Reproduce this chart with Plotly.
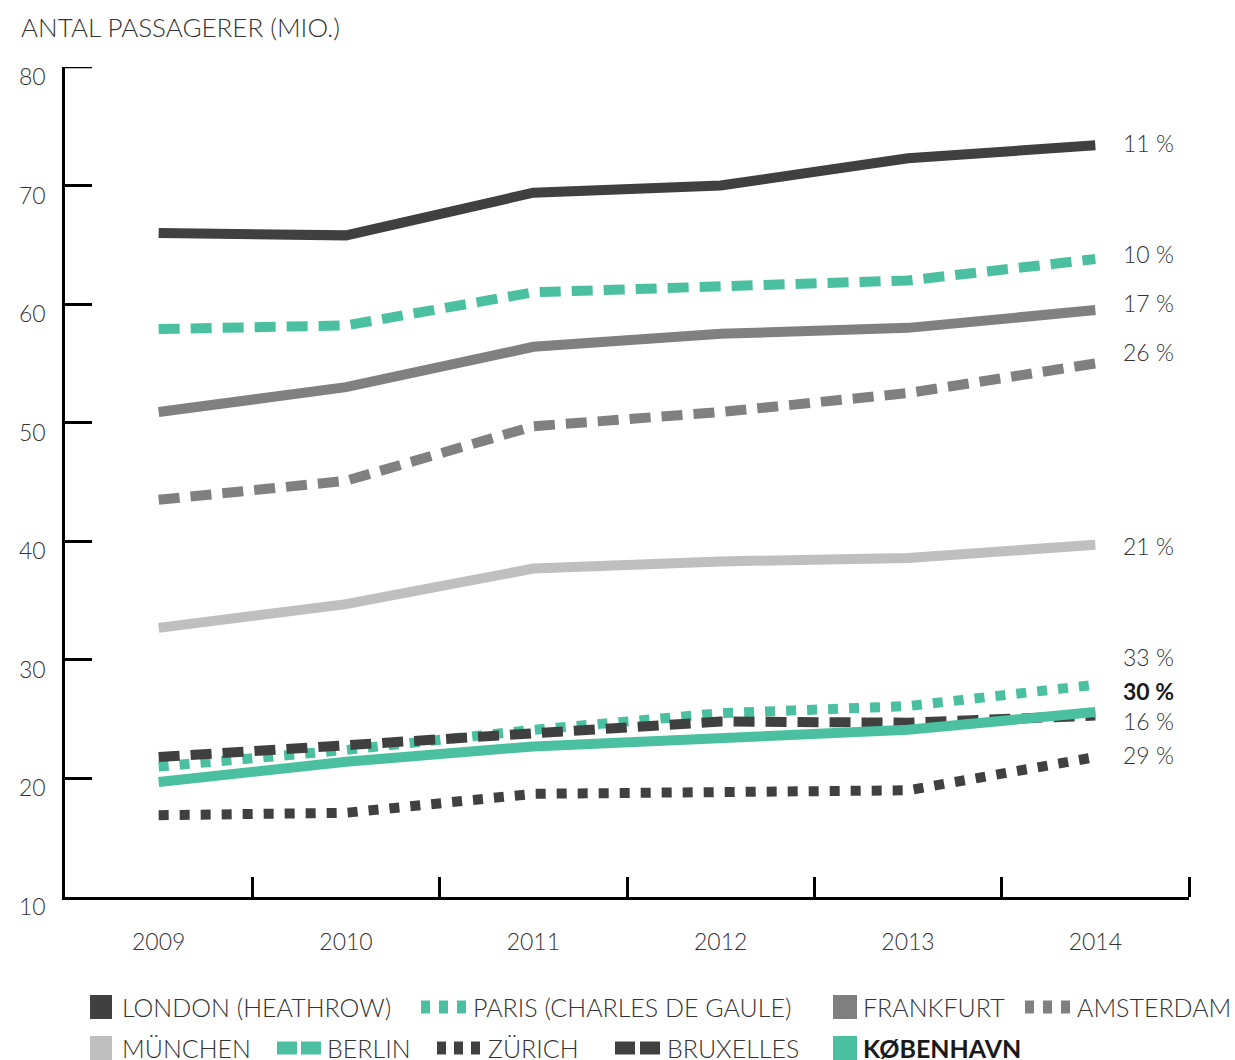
import plotly.graph_objects as go

# Passenger numbers (millions) for the years 2009-2014
years = ["2009", "2010", "2011", "2012", "2013", "2014"]
london = [66.0, 65.8, 69.4, 70.0, 72.3, 73.4]
paris = [57.9, 58.2, 61.0, 61.6, 62.0, 63.8]
frankfurt = [50.9, 53.0, 56.4, 57.5, 58.0, 59.5]
amsterdam = [43.5, 45.1, 49.7, 50.9, 52.5, 55.0]
muenchen = [32.7, 34.7, 37.7, 38.3, 38.6, 39.7]
berlin = [21.0, 22.4, 24.1, 25.5, 26.1, 27.9]
zuerich = [16.9, 17.1, 18.7, 18.9, 19.0, 21.8]
bruxelles = [21.8, 22.7, 23.8, 24.8, 24.7, 25.3]
koebenhavn = [19.7, 21.4, 22.7, 23.3, 24.1, 25.6]

# Growth 2009-2014 shown at the right-hand end
growth_text = ["11 %", "10 %", "17 %", "26 %", "21 %", "33 %", "30 %", "16 %", "29 %"]
growth_y = [73.6, 64.2, 60.1, 56.0, 39.6, 30.2, 27.4, 24.85, 22.0]
growth_bold = [False, False, False, False, False, False, True, False, False]

y_ticks = [10, 20, 30, 40, 50, 60, 70, 80]

DARK = "#404040"
TEAL = "#4bc0a0"
GREY = "#808080"
LIGHT = "#bfbfbf"
TEXT = "#333333"
FONT = "Lato"

W, H = 1235, 1060
ML, MR, MT, MB = 65, 46, 67, 163
PW, PH = W - ML - MR, H - MT - MB
Y_TICKLEN = 27

DASH = "21px,11px"
DOT = "10px,11px"

series = [
    ("LONDON (HEATHROW)", london, DARK, "solid"),
    ("PARIS (CHARLES DE GAULE)", paris, TEAL, DASH),
    ("FRANKFURT", frankfurt, GREY, "solid"),
    ("AMSTERDAM", amsterdam, GREY, DASH),
    ("MÜNCHEN", muenchen, LIGHT, "solid"),
    ("BERLIN", berlin, TEAL, DOT),
    ("ZÜRICH", zuerich, DARK, DOT),
    ("BRUXELLES", bruxelles, DARK, DASH),
    ("KØBENHAVN", koebenhavn, TEAL, "solid"),
]

x_idx = list(range(len(years)))

fig = go.Figure()
for name, vals, color, dash in series:
    fig.add_trace(go.Scatter(
        x=x_idx, y=vals, mode="lines", name=name,
        line=dict(color=color, width=10, dash=dash),
        showlegend=False, hoverinfo="x+y+name",
    ))


def px_x(px):
    return (px - ML) / PW


def px_y(py):
    return (H - MB - py) / PH


shapes = []
annotations = []

# Top y tick (at the upper end of the axis line)
shapes.append(dict(
    type="line", xref="paper", yref="y",
    x0=0, x1=Y_TICKLEN / PW, y0=y_ticks[-1], y1=y_ticks[-1],
    line=dict(color="black", width=2.5),
))

# Title
annotations.append(dict(
    text="ANTAL PASSAGERER (MIO.)", xref="paper", yref="paper",
    x=px_x(19), y=px_y(27), xanchor="left", yanchor="middle",
    showarrow=False, font=dict(family=FONT, size=26, color=TEXT, weight=300),
))

# Growth labels
for txt, yv, bold in zip(growth_text, growth_y, growth_bold):
    annotations.append(dict(
        text=f"<b>{txt}</b>" if bold else txt, xref="x", yref="y",
        x=x_idx[-1], y=yv, xanchor="left", yanchor="middle", xshift=26,
        showarrow=False,
        font=dict(family=FONT, size=23, color="#1a1a1a" if bold else TEXT,
                  weight=700 if bold else 300),
    ))

# Custom legend: swatch blocks (x0, x1 in px) + label start
legend_rows = [
    (1007, [
        ("LONDON (HEATHROW)", DARK, [(90, 112)], 24, 120, False),
        ("PARIS (CHARLES DE GAULE)", TEAL, [(421, 430), (439, 448), (457, 466)], 13, 471, False),
        ("FRANKFURT", GREY, [(833, 857)], 24, 861, False),
        ("AMSTERDAM", GREY, [(1025, 1034), (1043, 1052), (1061, 1070)], 13, 1075, False),
    ]),
    (1048, [
        ("MÜNCHEN", LIGHT, [(90, 112)], 24, 120, False),
        ("BERLIN", TEAL, [(277, 297), (301, 321)], 13, 325, False),
        ("ZÜRICH", DARK, [(437, 446), (454, 463), (471, 480)], 13, 486, False),
        ("BRUXELLES", DARK, [(615, 635), (640, 660)], 13, 665, False),
        ("KØBENHAVN", TEAL, [(833, 857)], 24, 861, True),
    ]),
]
for cy, items in legend_rows:
    for label, color, blocks, hgt, tx, bold in items:
        for x0, x1 in blocks:
            shapes.append(dict(
                type="rect", xref="paper", yref="paper",
                x0=px_x(x0), x1=px_x(x1),
                y0=px_y(cy + hgt / 2), y1=px_y(cy - hgt / 2),
                fillcolor=color, line=dict(width=0), layer="above",
            ))
        annotations.append(dict(
            text=f"<b>{label}</b>" if bold else label,
            xref="paper", yref="paper", x=px_x(tx), y=px_y(cy),
            xanchor="left", yanchor="middle", showarrow=False,
            font=dict(family=FONT, size=25, color="#1a1a1a" if bold else TEXT,
                      weight=700 if bold else 300),
        ))

fig.update_layout(
    width=W, height=H,
    margin=dict(l=ML, r=MR, t=MT, b=MB, pad=0),
    paper_bgcolor="white", plot_bgcolor="white",
    shapes=shapes, annotations=annotations,
    xaxis=dict(
        range=[-0.5, len(years) - 0.5], tickvals=x_idx, ticktext=years,
        ticks="", showgrid=False, zeroline=False,
        showline=True, linecolor="black", linewidth=2.5,
        tickfont=dict(family=FONT, size=23, color=TEXT, weight=300),
        ticklabelstandoff=23,
        minor=dict(tickvals=[i + 0.5 for i in x_idx], ticks="inside",
                   ticklen=20, tickwidth=2.5, tickcolor="black", showgrid=False),
    ),
    yaxis=dict(
        range=[10, 80], tickvals=y_ticks, ticks="inside", ticklen=Y_TICKLEN,
        tickwidth=2.5, tickcolor="black", showgrid=False, zeroline=False,
        showline=True, linecolor="black", linewidth=2.5,
        tickfont=dict(family=FONT, size=23, color=TEXT, weight=300),
        ticklabelstandoff=12, ticklabelshift=10,
    ),
)

fig.write_html("out.html")
